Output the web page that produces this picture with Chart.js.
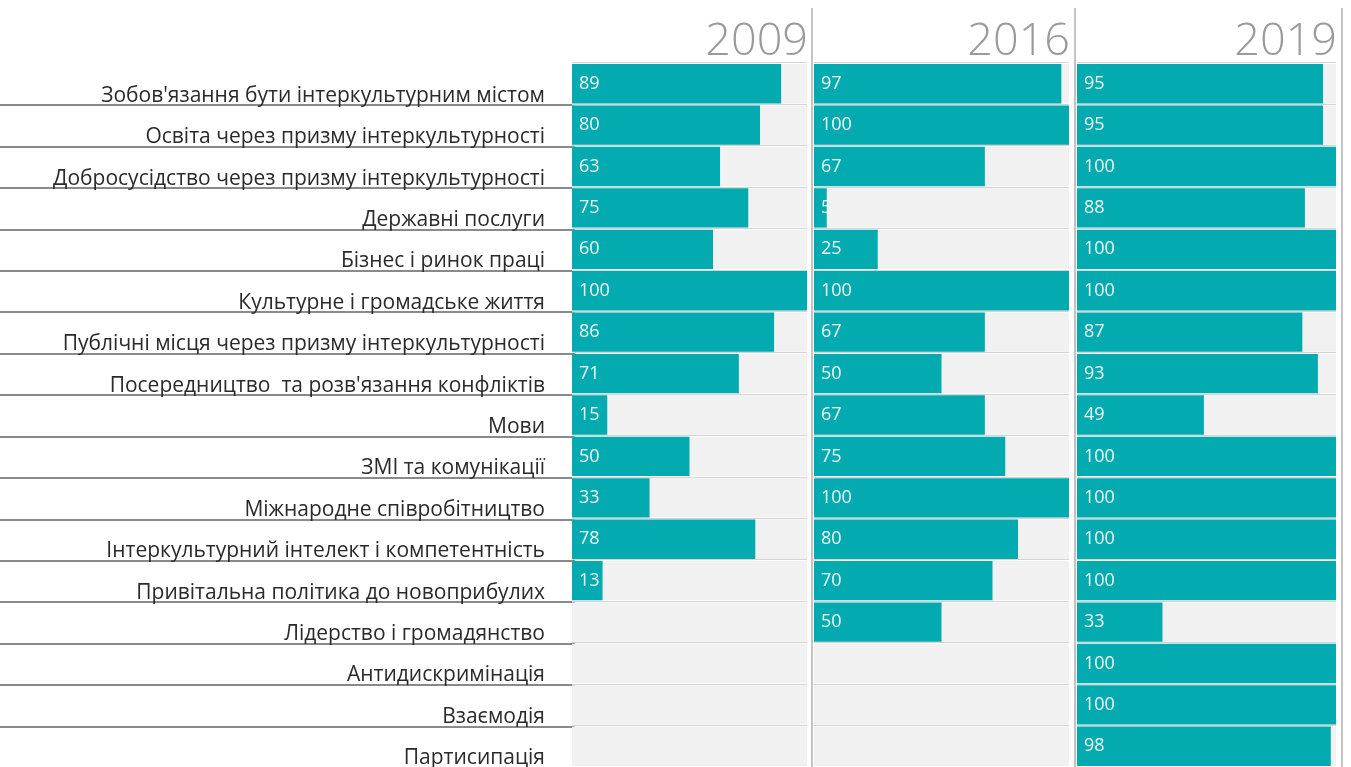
<!DOCTYPE html>
<html><head><meta charset="utf-8">
<script src="https://cdn.jsdelivr.net/npm/chart.js@4.4.1/dist/chart.umd.min.js"></script>
<style>
html,body{margin:0;padding:0;background:#fff;}
#wrap{position:relative;width:1351px;height:767px;overflow:hidden;}
.c{position:absolute;top:0;height:767px;}
</style></head><body>
<div id="wrap">
<div class="c" style="left:0;width:815px"><canvas id="c1"></canvas></div>
<div class="c" style="left:812px;width:266px"><canvas id="c2"></canvas></div>
<div class="c" style="left:1075px;width:270px"><canvas id="c3"></canvas></div>
</div>
<script>
const categories = [
  "Зобов'язання бути інтеркультурним містом",
  "Освіта через призму інтеркультурності",
  "Добросусідство через призму інтеркультурності",
  "Державні послуги",
  "Бізнес і ринок праці",
  "Культурне і громадське життя",
  "Публічні місця через призму інтеркультурності",
  "Посередництво  та розв'язання конфліктів",
  "Мови",
  "ЗМІ та комунікації",
  "Міжнародне співробітництво",
  "Інтеркультурний інтелект і компетентність",
  "Привітальна політика до новоприбулих",
  "Лідерство і громадянство",
  "Антидискримінація",
  "Взаємодія",
  "Партисипація"
];
const years = ["2009", "2016", "2019"];
const values2009 = [89, 80, 63, 75, 60, 100, 86, 71, 15, 50, 33, 78, 13, null, null, null, null];
const values2016 = [97, 100, 67, 5, 25, 100, 67, 50, 67, 75, 100, 80, 70, 50, null, null, null];
const values2019 = [95, 95, 100, 88, 100, 100, 87, 93, 49, 100, 100, 100, 100, 33, 100, 100, 98];
const maxScore = [100, 100, 100, 100, 100, 100, 100, 100, 100, 100, 100, 100, 100, 100, 100, 100, 100];

const TEAL = '#03abb0';
const TRACK = '#f1f1f1';
const FONT = '"Open Sans", "DejaVu Sans", sans-serif';

const decor = {
  id: 'decor',
  beforeDraw(chart, args, opts) {
    const ctx = chart.ctx, ca = chart.chartArea, y = chart.scales.y;
    ctx.save();
    if (opts.underline) {
      ctx.strokeStyle = '#8a8a8a';
      ctx.lineWidth = 2;
      const n = chart.data.labels.length;
      for (let i = 1; i <= n; i++) {
        const py = (y.getPixelForValue(i - 1) + y.getPixelForValue(i)) / 2 + 1;
        ctx.beginPath();
        ctx.moveTo(0, Math.round(py));
        ctx.lineTo(ca.left + 3, Math.round(py));
        ctx.stroke();
      }
    }
    ctx.restore();
  },
  afterDraw(chart, args, opts) {
    const ctx = chart.ctx, ca = chart.chartArea;
    ctx.save();
    ctx.strokeStyle = '#c4c4c4';
    ctx.lineWidth = 2;
    const sx = chart.width - 3;
    ctx.beginPath();
    ctx.moveTo(sx, 8);
    ctx.lineTo(sx, chart.height);
    ctx.stroke();
    ctx.font = '300 45px ' + FONT;
    ctx.fillStyle = '#9a9a9a';
    ctx.textAlign = 'right';
    ctx.textBaseline = 'alphabetic';
    ctx.fillText(opts.year, ca.right + 1, 55);
    ctx.restore();
  }
};

const valueLabels = {
  id: 'valueLabels',
  afterDatasetsDraw(chart) {
    const ds = chart.data.datasets[1];
    const meta = chart.getDatasetMeta(1);
    const ctx = chart.ctx;
    ctx.save();
    ctx.font = '18px ' + FONT;
    ctx.fillStyle = '#effafa';
    ctx.textAlign = 'left';
    ctx.textBaseline = 'middle';
    meta.data.forEach((el, i) => {
      const v = ds.data[i];
      if (v === null || v === undefined) return;
      ctx.fillText(String(v), el.base + 7, el.y);
    });
    ctx.restore();
  }
};

function makeChart(id, values, year, withLabels, axisWidth, padRight) {
  return new Chart(document.getElementById(id), {
    type: 'bar',
    data: {
      labels: categories,
      datasets: [
        { data: maxScore, backgroundColor: TRACK, grouped: false, order: 2,
          barPercentage: 0.95, categoryPercentage: 1 },
        { data: values, backgroundColor: TEAL, grouped: false, order: 1,
          barPercentage: 0.95, categoryPercentage: 1 }
      ]
    },
    options: {
      indexAxis: 'y',
      responsive: true,
      maintainAspectRatio: false,
      animation: false,
      layout: { padding: { top: 63, bottom: 0, left: 0, right: padRight } },
      scales: {
        x: { display: false, min: 0, max: 100 },
        y: {
          display: true,
          afterFit(scale) {
            scale.width = axisWidth;
            scale.paddingTop = 0;
            scale.paddingBottom = 0;
          },
          border: { display: false },
          grid: { offset: true, color: '#d4d4d4', lineWidth: 1, drawTicks: false },
          ticks: {
            display: withLabels,
            color: '#2a2a2a',
            font: { family: FONT, size: 21 },
            padding: 27,
            labelOffset: 12,
            autoSkip: false
          }
        }
      },
      plugins: {
        legend: { display: false },
        tooltip: { enabled: false },
        decor: { year: year, underline: withLabels }
      }
    },
    plugins: [decor, valueLabels]
  });
}

makeChart('c1', values2009, years[0], true, 572, 8);
makeChart('c2', values2016, years[1], false, 2, 9);
makeChart('c3', values2019, years[2], false, 2, 9);
</script>
</body></html>
